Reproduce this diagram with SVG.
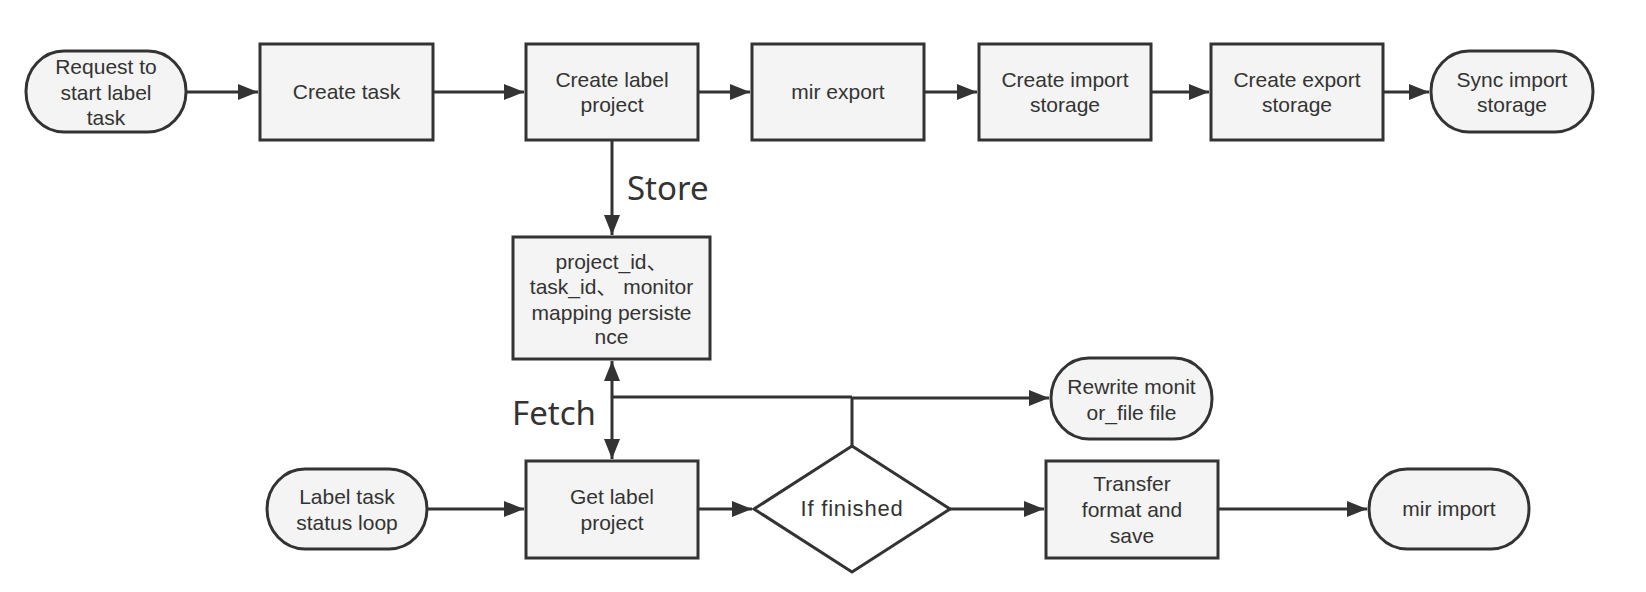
<svg xmlns="http://www.w3.org/2000/svg" width="1646" height="592" viewBox="0 0 1646 592">
<style>
.box{fill:#f4f4f4;stroke:#333;stroke-width:3}
.dia{fill:#fff;stroke:#333;stroke-width:3}
.t{font-family:"Liberation Sans",Arial,"Noto Sans CJK SC",sans-serif;font-size:21px;fill:#333;text-anchor:middle}
.big{font-family:"Noto Sans","Open Sans",sans-serif;font-size:33px;fill:#333}
.c{fill:none;stroke:#333;stroke-width:3}
</style>
<defs>
<marker id="ah" markerUnits="userSpaceOnUse" markerWidth="22" markerHeight="18" refX="20" refY="8" orient="auto-start-reverse">
<path d="M0,0 L20,8 L0,16 z" fill="#333"/>
</marker>
</defs>
<rect width="1646" height="592" fill="#fff"/>
<g id="connectors">
<path class="c" d="M186,92 H258" marker-end="url(#ah)"/>
<path class="c" d="M433,92 H524" marker-end="url(#ah)"/>
<path class="c" d="M698,92 H750" marker-end="url(#ah)"/>
<path class="c" d="M924,92 H977" marker-end="url(#ah)"/>
<path class="c" d="M1151,92 H1209" marker-end="url(#ah)"/>
<path class="c" d="M1383,92 H1429" marker-end="url(#ah)"/>
<path class="c" d="M612,140 V235" marker-end="url(#ah)"/>
<path class="c" d="M612,361 V459" marker-start="url(#ah)" marker-end="url(#ah)"/>
<path class="c" d="M427,509 H524" marker-end="url(#ah)"/>
<path class="c" d="M698,509 H752" marker-end="url(#ah)"/>
<path class="c" d="M950,509 H1044" marker-end="url(#ah)"/>
<path class="c" d="M1218,509 H1367" marker-end="url(#ah)"/>
<path class="c" d="M612,397 H852"/>
<path class="c" d="M852,446 V398 H1049" marker-end="url(#ah)"/>
<text class="big" x="627" y="200">Store</text>
<text class="big" x="512" y="425">Fetch</text>
</g>
<g id="n1"><rect class="box" x="26" y="51" width="160" height="81" rx="38" ry="40"/>
<text class="t" x="106" y="74">Request to</text><text class="t" x="106" y="100">start label</text><text class="t" x="106" y="125">task</text></g>
<g id="n2"><rect class="box" x="260" y="44" width="173" height="96"/>
<text class="t" x="346.5" y="99">Create task</text></g>
<g id="n3"><rect class="box" x="526" y="44" width="172" height="96"/>
<text class="t" x="612" y="87">Create label</text><text class="t" x="612" y="112">project</text></g>
<g id="n4"><rect class="box" x="752" y="44" width="172" height="96"/>
<text class="t" x="838" y="99">mir export</text></g>
<g id="n5"><rect class="box" x="979" y="44" width="172" height="96"/>
<text class="t" x="1065" y="87">Create import</text><text class="t" x="1065" y="112">storage</text></g>
<g id="n6"><rect class="box" x="1211" y="44" width="172" height="96"/>
<text class="t" x="1297" y="87">Create export</text><text class="t" x="1297" y="112">storage</text></g>
<g id="n7"><rect class="box" x="1431" y="51" width="162" height="81" rx="38" ry="40"/>
<text class="t" x="1512" y="87">Sync import</text><text class="t" x="1512" y="112">storage</text></g>
<g id="n8"><rect class="box" x="513" y="237" width="197" height="122"/>
<text class="t" x="611.5" y="269">project_id、</text><text class="t" x="611.5" y="294">task_id、 monitor</text><text class="t" x="611.5" y="320">mapping persiste</text><text class="t" x="611.5" y="344">nce</text></g>
<g id="n9"><rect class="box" x="267" y="469" width="160" height="80" rx="38" ry="40"/>
<text class="t" x="347" y="504">Label task</text><text class="t" x="347" y="530">status loop</text></g>
<g id="n10"><rect class="box" x="526" y="461" width="172" height="97"/>
<text class="t" x="612" y="504">Get label</text><text class="t" x="612" y="530">project</text></g>
<g id="n11"><polygon class="dia" points="852,446 950,509 852,572 754,509"/>
<text class="t" x="852" y="516" style="font-size:22px;letter-spacing:0.8px">If finished</text></g>
<g id="n12"><rect class="box" x="1051" y="358" width="161" height="81" rx="38" ry="40"/>
<text class="t" x="1131.5" y="394">Rewrite monit</text><text class="t" x="1131.5" y="420">or_file file</text></g>
<g id="n13"><rect class="box" x="1046" y="461" width="172" height="97"/>
<text class="t" x="1132" y="491">Transfer</text><text class="t" x="1132" y="517">format and</text><text class="t" x="1132" y="543">save</text></g>
<g id="n14"><rect class="box" x="1369" y="469" width="160" height="80" rx="38" ry="40"/>
<text class="t" x="1449" y="516">mir import</text></g>
</svg>
